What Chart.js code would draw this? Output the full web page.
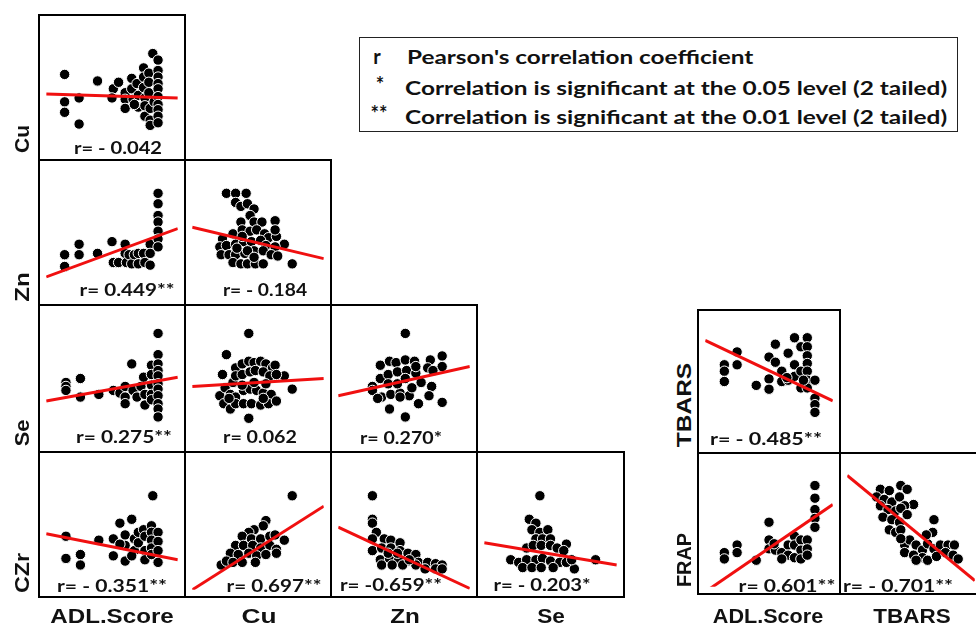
<!DOCTYPE html>
<html>
<head>
<meta charset="utf-8">
<script src="https://cdn.jsdelivr.net/npm/chart.js@4.4.0/dist/chart.umd.min.js"></script>
<style>
body{margin:0;background:#fff;width:976px;height:626px;overflow:hidden;position:relative;font-family:"Liberation Sans",Arial,sans-serif}
.panel{position:absolute;border:2px solid #000;box-sizing:border-box}
.panel canvas{position:absolute;left:0;top:0}
.lab{position:absolute;white-space:nowrap;line-height:1;transform:translate(-50%,-50%)}
.ax{font-weight:700;font-size:21px;color:#111}
.rl{font-family:Lato,sans-serif;font-weight:700;font-size:16.5px;color:#111}
#legend{position:absolute;left:359px;top:37px;width:599px;height:95px;border:1.5px solid #222;box-sizing:border-box}
.lg{position:absolute;white-space:nowrap;line-height:1;font-family:Lato,sans-serif;font-weight:700;font-size:19px;color:#111;transform-origin:left center}
.sym{font-size:20px}
</style>
</head>
<body>
<div id="legend"></div>
<script>
// valeurs (échelle 0-100 dans chaque case)
const cuAdl = [[14,60],[14,39],[14,31],[25,42],[25,22],[39,55],[51,49],[50,42],[55,54],[60,46],[60,41],[60,34],[65,57],[65,49],[66,41],[69,53],[70,44],[70,35],[67,37],[74,65],[74,58],[74,50],[75,42],[75,36],[75,28],[78,61],[78,54],[78,46],[79,34],[79,25],[79,21],[81,76],[82,39],[85,71],[85,63],[85,58],[85,53],[85,49],[85,43],[85,37],[85,33],[85,28],[85,23]];
const znAdl = [[14,33],[14,24],[25,41],[25,33],[39,34],[50,43],[51,27],[55,27],[60,41],[60,34],[61,27],[63,33],[65,26],[67,33],[70,34],[70,26],[74,34],[75,27],[79,41],[79,34],[79,25],[85,80],[85,72],[85,63],[85,58],[85,51],[85,45],[85,39]];
const znCu = [[26,80],[33,80],[41,80],[33,73],[37,70],[42,72],[47,68],[44,63],[37,58],[47,58],[53,58],[63,59],[23,45],[31,49],[38,52],[44,51],[49,52],[55,49],[58,46],[64,47],[70,41],[21,39],[26,40],[33,41],[39,43],[45,43],[52,44],[56,40],[63,39],[22,33],[28,33],[33,33],[40,34],[47,36],[54,36],[60,33],[65,32],[31,27],[37,26],[42,26],[48,26],[54,26],[76,26],[38,47],[42,36],[47,31],[34,38],[63,52]];
const seAdl = [[85,84],[15,47],[15,44],[15,41],[26,50],[26,36],[40,38],[51,41],[56,39],[60,44],[60,36],[60,31],[65,61],[66,41],[69,36],[72,44],[74,51],[75,38],[75,30],[80,60],[80,53],[80,45],[80,38],[80,34],[85,68],[85,61],[85,56],[85,52],[85,46],[85,42],[85,37],[85,31],[85,27],[85,21]];
const seCu = [[43,84],[26,68],[23,53],[33,58],[38,61],[43,63],[47,62],[52,63],[56,61],[61,58],[63,60],[70,52],[76,42],[21,37],[25,43],[31,47],[33,52],[38,53],[44,55],[48,56],[54,55],[59,52],[64,53],[29,38],[33,36],[39,41],[44,42],[49,41],[54,39],[60,38],[24,31],[29,27],[33,31],[39,31],[45,31],[52,30],[58,31],[64,33],[43,20],[47,47],[38,45],[56,46],[28,35],[54,35]];
const seZn = [[51,84],[32,60],[39,63],[44,62],[51,64],[58,63],[70,64],[79,67],[68,58],[79,59],[26,44],[32,50],[38,53],[45,55],[52,56],[59,54],[63,47],[71,44],[26,41],[33,36],[40,38],[47,39],[54,37],[61,31],[69,37],[79,32],[39,27],[51,21],[38,46],[45,46],[51,50],[56,43],[30,35],[47,36],[72,56],[59,59]];
const czrAdl = [[81,72],[15,41],[15,24],[26,27],[26,19],[40,38],[51,39],[51,26],[56,51],[60,42],[60,34],[60,22],[65,54],[67,39],[67,30],[70,44],[70,36],[74,46],[75,41],[75,30],[75,23],[80,49],[80,44],[80,38],[80,32],[80,27],[85,44],[85,37],[85,30],[85,21],[65,26],[56,35]];
const czrCu = [[76,72],[56,53],[54,49],[47,46],[43,44],[38,41],[45,39],[52,39],[59,41],[63,42],[70,38],[33,34],[39,34],[46,34],[52,32],[59,34],[64,31],[29,28],[35,27],[43,28],[49,26],[56,27],[22,19],[26,22],[31,21],[38,21],[48,21],[64,28]];
const czrZn = [[26,72],[26,54],[26,51],[29,44],[26,39],[35,39],[40,38],[47,36],[26,30],[33,32],[40,32],[47,30],[53,28],[59,27],[32,23],[39,24],[46,23],[53,22],[61,21],[68,21],[74,20],[79,19],[33,19],[41,19],[49,19],[59,19],[66,16],[74,16],[79,16],[38,28],[45,28],[54,23]];
const czrSe = [[42,72],[34,54],[39,51],[36,46],[42,44],[48,46],[39,39],[44,39],[50,39],[32,32],[37,34],[43,34],[50,34],[55,32],[62,35],[60,30],[20,23],[26,21],[32,23],[39,23],[44,24],[50,22],[57,21],[62,21],[68,16],[29,17],[36,17],[43,17],[52,17],[66,23],[84,23]];
const tbarsAdl = [[15,63],[15,58],[15,50],[25,73],[25,63],[40,47],[50,69],[50,52],[50,44],[55,79],[55,65],[60,58],[60,50],[65,72],[65,51],[70,84],[70,63],[70,54],[75,77],[75,58],[75,45],[80,84],[80,77],[80,70],[80,64],[80,58],[80,51],[80,45],[86,51],[86,37],[86,32],[86,26],[64,53],[77,51]];
const frapAdl = [[15,27],[15,22],[25,33],[25,27],[40,21],[50,51],[50,37],[50,30],[55,29],[60,27],[65,33],[65,25],[70,40],[70,33],[70,23],[75,37],[75,29],[75,22],[80,37],[80,30],[80,25],[86,80],[86,70],[86,61],[86,54],[86,47],[60,22],[54,34]];
const frapTbars = [[26,77],[33,76],[42,80],[47,77],[52,65],[23,71],[29,69],[35,67],[41,71],[45,64],[26,64],[32,61],[38,60],[42,62],[47,57],[28,55],[35,53],[41,51],[33,45],[38,43],[42,45],[68,53],[67,43],[45,33],[49,37],[54,33],[59,29],[63,34],[68,30],[73,33],[79,33],[84,33],[45,27],[52,25],[59,23],[63,21],[70,24],[77,27],[83,25],[87,22],[42,38],[62,41],[54,21]];

// droites de régression : y au bord gauche, y au bord droit
const fits = [[45,42],[16,53],[54,30],[33,51],[44,50],[37,59],[43,23],[0,64],[48,1],[36,19],[82,35],[-4,65],[88,5]];
const rLabels = ['r= - 0.042','r= 0.449**','r= - 0.184','r= 0.275**','r= 0.062','r= 0.270*','r= - 0.351**','r= 0.697**','r= -0.659**','r= - 0.203*','r= - 0.485**','r= 0.601**','r= - 0.701**'];
const rowNames = ['Cu','Zn','Se','CZr','TBARS','FRAP'];
const colNames = ['ADL.Score','Cu','Zn','Se','ADL.Score','TBARS'];
const legendSymbols = ['r','*','**'];
const legendTexts = ["Pearson's correlation coefficient",'Correlation is significant at the 0.05 level (2 tailed)','Correlation is significant at the 0.01 level (2 tailed)'];

// mise en page
const lx = [39,185,331,477,624], ly = [15,160,305,452,597];
const rx = [698,840,982], ry = [310,453,594];
const panels = [
  {pts:cuAdl,   x:lx[0],x1:lx[1],y:ly[0],y1:ly[1], r:[118,148,88]},
  {pts:znAdl,   x:lx[0],x1:lx[1],y:ly[1],y1:ly[2], r:[127,290,95]},
  {pts:znCu,    x:lx[1],x1:lx[2],y:ly[1],y1:ly[2], r:[265,290,84]},
  {pts:seAdl,   x:lx[0],x1:lx[1],y:ly[2],y1:ly[3], r:[124,437,96]},
  {pts:seCu,    x:lx[1],x1:lx[2],y:ly[2],y1:ly[3], r:[260,437,74]},
  {pts:seZn,    x:lx[2],x1:lx[3],y:ly[2],y1:ly[3], r:[401,438,82]},
  {pts:czrAdl,  x:lx[0],x1:lx[1],y:ly[3],y1:ly[4], r:[112,586,110]},
  {pts:czrCu,   x:lx[1],x1:lx[2],y:ly[3],y1:ly[4], r:[274,586,95]},
  {pts:czrZn,   x:lx[2],x1:lx[3],y:ly[3],y1:ly[4], r:[391,585,102]},
  {pts:czrSe,   x:lx[3],x1:lx[4],y:ly[3],y1:ly[4], r:[542,585,97]},
  {pts:tbarsAdl,x:rx[0],x1:rx[1],y:ry[0],y1:ry[1], r:[766,439,112]},
  {pts:frapAdl, x:rx[0],x1:rx[1],y:ry[1],y1:ry[2], r:[787,586,97]},
  {pts:frapTbars,x:rx[1],x1:rx[2],y:ry[1],y1:ry[2], r:[898,586,110]}
];
const rowPos = [[21,139,28],[21,287,30],[21,433,27],[21,573,40],[683,405,84],[683,560,54]];
const colPos = [[112,615,123],[259,615,35],[405,615,30],[551,615,28],[768,615,110],[912,615,77]];

function addLabel(cls, text, cx, cy, w, rot) {
  var el = document.createElement('div');
  el.className = 'lab ' + cls;
  el.textContent = text;
  el.style.left = cx + 'px';
  el.style.top = cy + 'px';
  document.body.appendChild(el);
  var s = w / el.offsetWidth;
  el.style.transform = 'translate(-50%,-50%)' + (rot ? ' rotate(-90deg)' : '') + ' scaleX(' + s + ')';
}

panels.forEach(function (p, i) {
  var div = document.createElement('div');
  div.className = 'panel';
  var w = p.x1 - p.x + 2, h = p.y1 - p.y + 2;
  div.style.left = (p.x - 1) + 'px';
  div.style.top = (p.y - 1) + 'px';
  div.style.width = w + 'px';
  div.style.height = h + 'px';
  var cv = document.createElement('canvas');
  cv.width = w - 4; cv.height = h - 4;
  cv.style.width = (w - 4) + 'px'; cv.style.height = (h - 4) + 'px';
  div.appendChild(cv);
  document.body.appendChild(div);
  new Chart(cv.getContext('2d'), {
    type: 'scatter',
    data: {
      datasets: [{
        data: [{x: 0, y: fits[i][0]}, {x: 100, y: fits[i][1]}],
        showLine: true,
        borderColor: '#f01010',
        borderWidth: 3,
        pointRadius: 0,
        clip: 0
      }, {
        data: p.pts.map(function (d) { return {x: d[0], y: d[1]}; }),
        pointRadius: 5.2,
        backgroundColor: '#000',
        borderColor: '#fff',
        borderWidth: 1,
        clip: false
      }]
    },
    options: {
      responsive: false,
      animation: false,
      devicePixelRatio: 1,
      events: [],
      layout: {padding: 0},
      plugins: {legend: {display: false}, tooltip: {enabled: false}},
      scales: {
        x: {type: 'linear', min: 0, max: 100, display: false},
        y: {type: 'linear', min: 0, max: 100, display: false}
      }
    }
  });
  addLabel('rl', rLabels[i], p.r[0], p.r[1], p.r[2]);
});

rowNames.forEach(function (n, i) { addLabel('ax', n, rowPos[i][0], rowPos[i][1], rowPos[i][2], true); });
colNames.forEach(function (n, i) { addLabel('ax', n, colPos[i][0], colPos[i][1], colPos[i][2]); });

// légende
var legendY = [56, 87, 116], symX = [377, 380, 379], symY = [56, 84, 113], textX = [407, 405, 405], textW = [347, 542, 542];
legendTexts.forEach(function (t, i) {
  var s = document.createElement('div');
  s.className = 'lg sym';
  s.textContent = legendSymbols[i];
  s.style.left = symX[i] + 'px';
  s.style.top = symY[i] + 'px';
  document.body.appendChild(s);
  s.style.transform = 'translate(-50%,-50%)';
  var el = document.createElement('div');
  el.className = 'lg';
  el.textContent = t;
  el.style.left = textX[i] + 'px';
  el.style.top = legendY[i] + 'px';
  document.body.appendChild(el);
  el.style.transform = 'translateY(-50%) scaleX(' + (textW[i] / el.offsetWidth) + ')';
});
</script>
</body>
</html>
